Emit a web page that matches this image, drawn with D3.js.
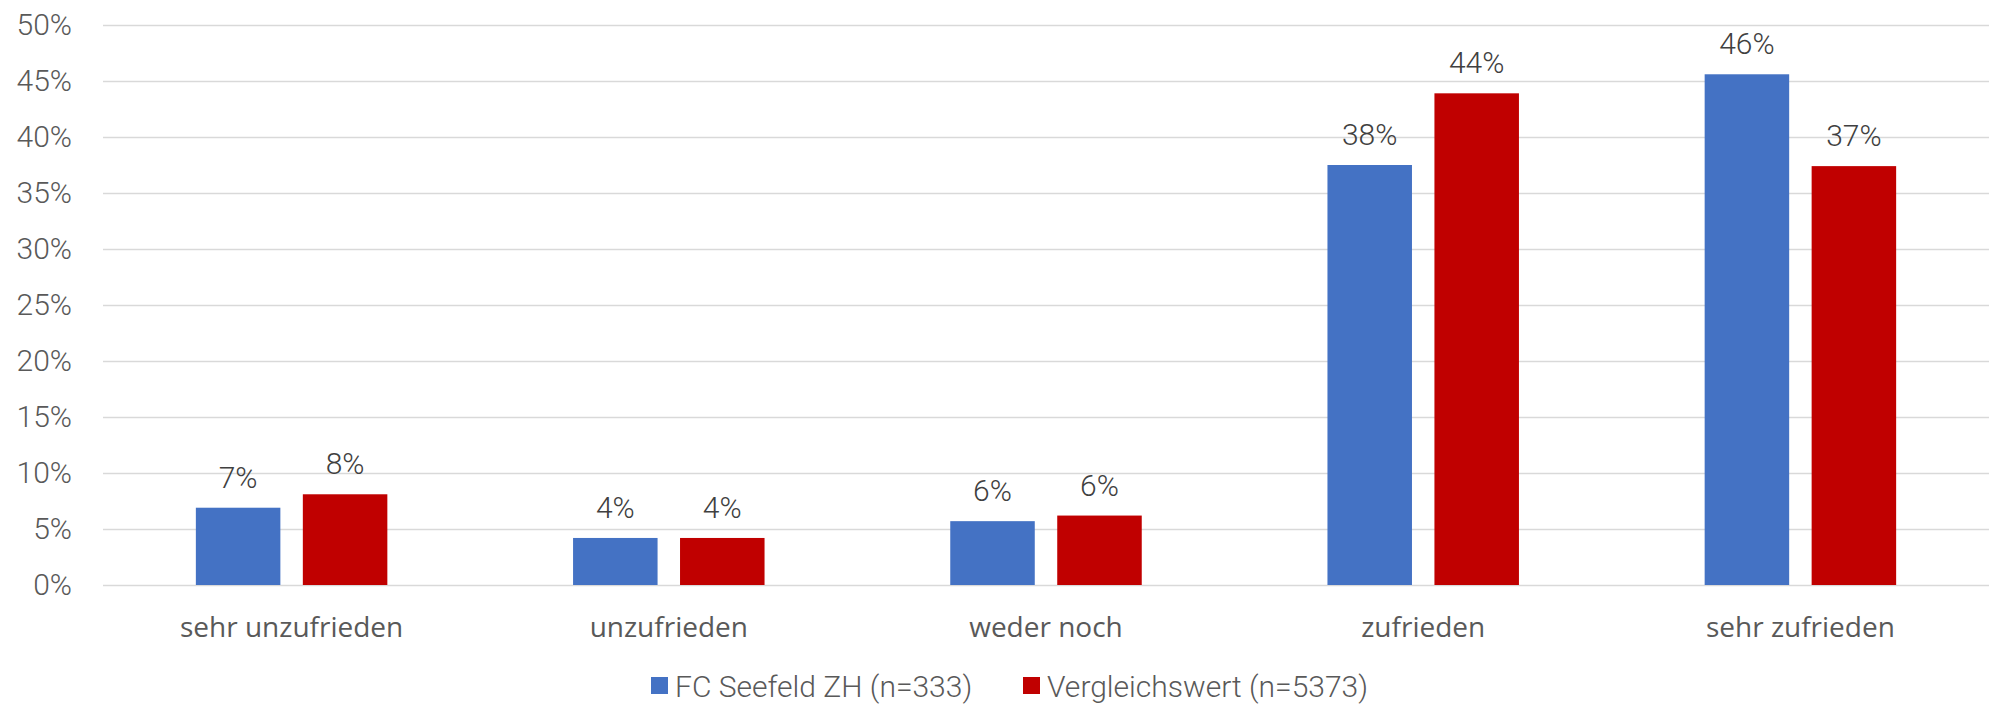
<!DOCTYPE html>
<html>
<head>
<meta charset="utf-8">
<script src="https://cdn.jsdelivr.net/npm/d3@7"></script>
<style>
  body { margin: 0; background: #fff; }
  .narrow { font-family: Roboto, "DejaVu Sans Condensed", sans-serif; font-weight: 300; }
</style>
</head>
<body>
<script>
var categories = ["sehr unzufrieden", "unzufrieden", "weder noch", "zufrieden", "sehr zufrieden"];
var seriesNames = ["FC Seefeld ZH (n=333)", "Vergleichswert (n=5373)"];
var seefeld = [6.9, 4.2, 5.7, 37.5, 45.6];
var vergleich = [8.1, 4.2, 6.2, 43.9, 37.4];
var yTicks = [0, 5, 10, 15, 20, 25, 30, 35, 40, 45, 50];
var colors = ["#4472C4", "#C00000"];

var width = 1991, height = 705;
var margin = {top: 25, right: 2, bottom: 120, left: 103};

var svg = d3.select("body").append("svg")
    .attr("width", width)
    .attr("height", height);

// scales
var x0 = d3.scaleBand()
    .domain(categories)
    .range([margin.left, width - margin.right])
    .padding(0);

var x1 = d3.scaleBand()
    .domain([0, 1])
    .range([0, x0.bandwidth()])
    .paddingInner(0.21)
    .paddingOuter(0.868);

var y = d3.scaleLinear()
    .domain([0, 50])
    .range([height - margin.bottom, margin.top]);

// gridlines + y labels
var yAxis = d3.axisLeft(y)
    .tickValues(yTicks)
    .tickSize(-(width - margin.left - margin.right))
    .tickPadding(31)
    .tickFormat(function(d) { return d + "%"; });

var gy = svg.append("g")
    .attr("transform", "translate(" + margin.left + ",0)")
    .call(yAxis);
gy.select(".domain").remove();
gy.selectAll("line").attr("stroke", "#d9d9d9").attr("stroke-width", 1.5);
gy.selectAll("text")
    .attr("class", "narrow")
    .attr("fill", "#595959")
    .style("font-size", "30px");

// bars
var rows = categories.map(function(c, i) {
  return {cat: c, vals: [seefeld[i], vergleich[i]]};
});

var groups = svg.selectAll(".grp")
    .data(rows)
    .enter().append("g")
    .attr("class", "grp")
    .attr("transform", function(d) { return "translate(" + x0(d.cat) + ",0)"; });

groups.selectAll("rect")
    .data(function(d) { return d.vals; })
    .enter().append("rect")
    .attr("x", function(d, i) { return x1(i); })
    .attr("y", function(d) { return y(d); })
    .attr("width", x1.bandwidth())
    .attr("height", function(d) { return y(0) - y(d); })
    .attr("fill", function(d, i) { return colors[i]; });

groups.selectAll(".lbl")
    .data(function(d) { return d.vals; })
    .enter().append("text")
    .attr("class", "lbl narrow")
    .attr("x", function(d, i) { return x1(i) + x1.bandwidth() / 2; })
    .attr("y", function(d) { return y(d) - 20; })
    .attr("text-anchor", "middle")
    .attr("fill", "#404040")
    .style("font-size", "30px")
    .text(function(d) { return Math.round(d) + "%"; });

// category labels
var xAxis = d3.axisBottom(x0).tickSize(0).tickPadding(0);
var gx = svg.append("g")
    .attr("transform", "translate(0," + y(0) + ")")
    .call(xAxis);
gx.select(".domain").remove();
gx.selectAll("text")
    .attr("dy", null)
    .attr("y", 52)
    .attr("fill", "#595959")
    .style("font-family", "'Open Sans', sans-serif")
    .style("font-size", "28px");

// legend
var legendX = [651, 1023];
var leg = svg.selectAll(".leg")
    .data(seriesNames)
    .enter().append("g")
    .attr("class", "leg")
    .attr("transform", function(d, i) { return "translate(" + legendX[i] + ",686)"; });
leg.append("rect")
    .attr("x", 0).attr("y", -9)
    .attr("width", 17).attr("height", 17)
    .attr("fill", function(d, i) { return colors[i]; });
leg.append("text")
    .attr("class", "narrow")
    .attr("x", 24)
    .attr("y", 11)
    .attr("fill", "#595959")
    .style("font-size", "30px")
    .text(function(d) { return d; });
</script>
</body>
</html>
